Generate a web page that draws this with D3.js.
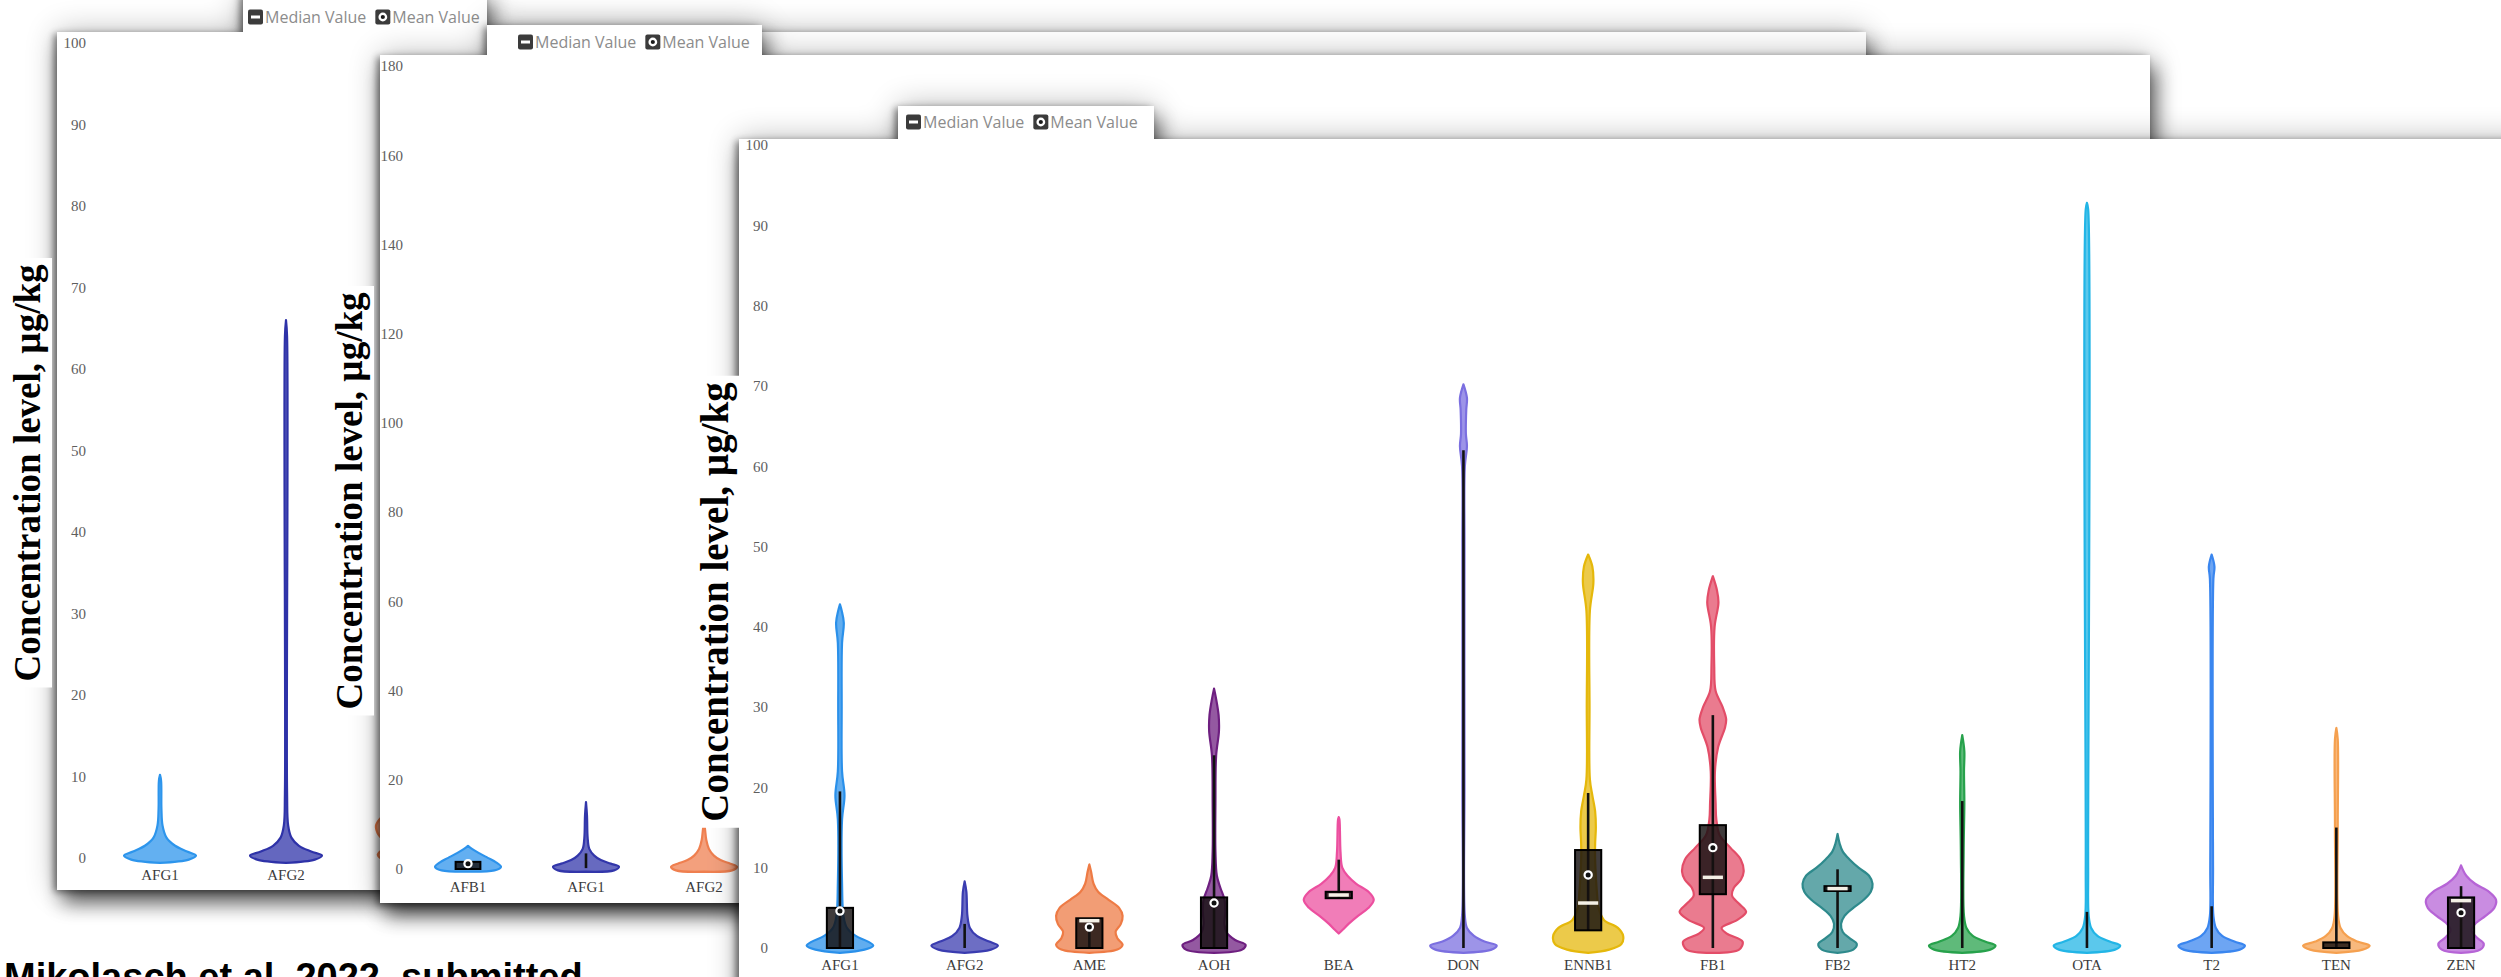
<!DOCTYPE html>
<html>
<head>
<meta charset="utf-8">
<script src="https://cdn.jsdelivr.net/npm/d3@7"></script>
<style>
  body { margin: 0; background: #ffffff; overflow: hidden; }
  svg { display: block; }
</style>
</head>
<body>
<svg id="chart" width="2501" height="977"></svg>
<script>
// ---------- data ----------
// Each violin profile is a list of [concentration (µg/kg), relative density 0..1].
// Box stats are [q1, median, q3, mean, whiskerLow, whiskerHigh]; null = not drawn.

const panel1Categories = ["AFG1", "AFG2", "AME"];
const panel1Ticks = [0, 10, 20, 30, 40, 50, 60, 70, 80, 90, 100];
const panel1Colors = ["#2d95ec", "#2e32a8", "#ee7c48"];
const panel1Profiles = [
  [[-0.6,0],[-0.2,0.8],[0.3,1.0],[0.8,0.75],[1.5,0.42],[2.5,0.18],[4,0.07],[6,0.04],[9.5,0.03],[10.2,0]],
  [[-0.6,0],[-0.2,0.8],[0.3,1.0],[0.8,0.7],[1.5,0.36],[2.5,0.15],[4,0.06],[8,0.03],[64,0.03],[66,0]],
  [[-0.6,0],[-0.2,0.8],[0.4,0.95],[1.2,0.8],[2,0.78],[3,0.95],[4,1.0],[5,0.85],[6,0.55],[7,0.25],[8.5,0.1],[10.5,0]]
];

const panel2Categories = ["AFB1", "AFG1", "AFG2"];
const panel2Ticks = [0, 20, 40, 60, 80, 100, 120, 140, 160, 180];
const panel2Colors = ["#2d93ec", "#3236aa", "#ef7f4f"];
const panel2Profiles = [
  [[-0.6,0],[-0.3,0.8],[0.5,1.0],[1.5,0.85],[2.5,0.6],[3.5,0.35],[4.5,0.12],[5.2,0]],
  [[-0.6,0],[-0.3,0.85],[0.5,1.0],[1.2,0.75],[2,0.45],[3,0.25],[4.5,0.1],[7,0.05],[12,0.03],[15,0]],
  [[-0.6,0],[-0.3,0.85],[0.5,1.0],[1.2,0.8],[2,0.5],[3,0.3],[4.5,0.15],[6.5,0.07],[9,0.03],[10.3,0]]
];
const panel2Boxes = [
  [0, null, 1.6, 1.2, 0, 1.6],
  [null, null, null, null, 0.2, 3.5],
  [null, null, null, null, null, null]
];

const panel3Categories = ["AFG1","AFG2","AME","AOH","BEA","DON","ENNB1","FB1","FB2","HT2","OTA","T2","TEN","ZEN"];
const panel3Ticks = [0, 10, 20, 30, 40, 50, 60, 70, 80, 90, 100];
const panel3Colors = ["#2a90ea","#3a3cb0","#ee7b45","#6e1f80","#ec4f9f","#7b6fe0","#e5b80b",
                      "#e34d68","#2e8a8c","#27a24c","#22b5e6","#3a86ef","#f5a04f","#b664d6"];
const panel3Profiles = [
  [[-0.6,0],[-0.2,0.7],[0.3,0.95],[0.8,0.8],[1.5,0.45],[2.5,0.2],[4,0.1],[8,0.06],[16,0.06],[19,0.13],[22,0.06],[30,0.05],[38,0.06],[40.5,0.11],[42,0.05],[42.8,0]],
  [[-0.6,0],[-0.2,0.75],[0.3,0.95],[0.8,0.7],[1.5,0.35],[2.5,0.15],[4,0.08],[7,0.05],[8.3,0]],
  [[-0.6,0],[-0.2,0.8],[0.4,0.95],[1.2,0.8],[2,0.75],[3,0.9],[4,0.95],[5,0.85],[6,0.55],[7,0.25],[8,0.12],[9.5,0.05],[10.4,0]],
  [[-0.6,0],[-0.2,0.8],[0.4,0.9],[1,0.6],[2,0.35],[3,0.3],[4.5,0.32],[6,0.3],[7.5,0.18],[9,0.08],[12,0.04],[18,0.04],[24,0.06],[27,0.14],[29,0.13],[31,0.06],[32.3,0]],
  [[1.8,0],[2.3,0.12],[3,0.28],[4,0.55],[5,0.85],[6,1.0],[7,0.85],[8,0.5],[9,0.25],[10,0.1],[12,0.05],[16,0.02],[16.3,0]],
  [[-0.6,0],[-0.2,0.8],[0.3,0.95],[0.8,0.6],[1.5,0.3],[2.5,0.1],[4,0.04],[20,0.03],[50,0.03],[60,0.04],[62.5,0.1],[64,0.07],[67,0.08],[68.5,0.1],[70.2,0]],
  [[-0.6,0],[-0.2,0.6],[0.5,0.95],[1.5,1.0],[2.5,0.85],[3.5,0.45],[5,0.3],[7,0.25],[9,0.22],[11,0.2],[13,0.2],[15,0.22],[17,0.2],[19,0.12],[21,0.05],[30,0.04],[42,0.05],[45.5,0.15],[47.5,0.12],[49,0]],
  [[-0.6,0],[-0.2,0.75],[0.8,0.85],[1.8,0.4],[2.5,0.25],[3.5,0.7],[4.5,0.95],[5.5,0.75],[6.5,0.55],[7.5,0.6],[8.5,0.8],[9.5,0.88],[11,0.8],[12.5,0.5],[14,0.2],[16,0.1],[18,0.08],[22,0.06],[25,0.15],[27.5,0.35],[28.5,0.38],[30,0.28],[32,0.08],[35,0.04],[40,0.05],[43,0.16],[44.5,0.12],[46.3,0]],
  [[-0.6,0],[-0.2,0.45],[0.5,0.55],[1.2,0.35],[2,0.15],[3,0.1],[4,0.2],[5,0.45],[6,0.75],[7,0.95],[8,1.0],[9,0.9],[10,0.6],[11,0.35],[12,0.15],[13,0.06],[14.2,0]],
  [[-0.6,0],[-0.2,0.8],[0.3,0.95],[0.8,0.65],[1.5,0.3],[2.5,0.12],[4,0.05],[12,0.04],[18,0.06],[22,0.05],[24.5,0.06],[26.5,0]],
  [[-0.6,0],[-0.2,0.8],[0.3,0.95],[0.8,0.65],[1.5,0.3],[2.5,0.12],[4,0.05],[10,0.035],[92,0.035],[92.8,0]],
  [[-0.6,0],[-0.2,0.8],[0.3,0.95],[0.8,0.65],[1.5,0.3],[2.5,0.12],[4,0.05],[10,0.04],[46,0.05],[47.5,0.08],[49,0]],
  [[-0.6,0],[-0.2,0.75],[0.3,0.95],[0.8,0.6],[1.5,0.3],[2.5,0.12],[4,0.05],[15,0.04],[26,0.04],[27.4,0]],
  [[-0.6,0],[-0.2,0.55],[0.5,0.65],[1.3,0.45],[2.2,0.3],[3,0.4],[4,0.7],[5,0.95],[6,1.0],[7,0.8],[8,0.4],[9,0.15],[10.3,0]]
];
const panel3Boxes = [
  [0, null, 5.0, 4.6, 0, 19.5],
  [null, null, null, null, 0, 3.0],
  [0, 3.4, 3.7, 2.6, 0, 3.7],
  [0, null, 6.3, 5.6, 0, 24],
  [6.2, 6.6, 7.0, null, 6.2, 11],
  [null, null, null, null, 0, 62],
  [2.2, 5.6, 12.2, 9.1, 2.2, 19.3],
  [6.7, 8.8, 15.3, 12.5, 0, 29],
  [7.1, 7.4, 7.7, null, 0, 9.8],
  [null, null, null, null, 0, 18.3],
  [null, null, null, null, 0, 4.5],
  [null, null, null, null, 0, 5.2],
  [0, null, 0.7, null, 0, 15],
  [0, 5.9, 6.3, 4.4, 0, 7.7]
];

const legendLabels = ["Median Value", "Mean Value"];
const axisTitle = "Concentration level, µg/kg";
const caption = "Mikolasch et al. 2022, submitted";

// ---------- drawing ----------
const svg = d3.select("#chart");
svg.append("defs").html(`
  <filter id="cardShadow" x="-0.06" y="-0.14" width="1.12" height="1.3">
    <feGaussianBlur in="SourceAlpha" stdDeviation="10" result="blur"/>
    <feOffset in="blur" dx="5" dy="13" result="off"/>
    <feComponentTransfer in="off" result="soft"><feFuncA type="linear" slope="0.6"/></feComponentTransfer>
    <feGaussianBlur in="SourceAlpha" stdDeviation="16" result="halo"/>
    <feComponentTransfer in="halo" result="haloSoft"><feFuncA type="linear" slope="0.28"/></feComponentTransfer>
    <feGaussianBlur in="SourceAlpha" stdDeviation="3.5" result="edge"/>
    <feOffset in="edge" dx="-3" dy="2" result="edgeOff"/>
    <feComponentTransfer in="edgeOff" result="edgeSoft"><feFuncA type="linear" slope="0.45"/></feComponentTransfer>
    <feMerge><feMergeNode in="haloSoft"/><feMergeNode in="soft"/><feMergeNode in="edgeSoft"/><feMergeNode in="SourceGraphic"/></feMerge>
  </filter>`);

const serif = "'Liberation Serif', 'Times New Roman', serif";

function drawLegend(g, lx, ly) {
  const lg = g.append("g").attr("transform", `translate(${lx},${ly})`);
  let cursor = 0;
  legendLabels.forEach((label, i) => {
    const icon = lg.append("g").attr("transform", `translate(${cursor},0)`);
    icon.append("rect").attr("x", 0).attr("y", -7.5).attr("width", 15).attr("height", 15)
      .attr("rx", 2).attr("fill", "#3b3b3b");
    if (i === 0) {
      icon.append("rect").attr("x", 3).attr("y", -1.5).attr("width", 9).attr("height", 3).attr("fill", "#ffffff");
    } else {
      icon.append("circle").attr("cx", 7.5).attr("cy", 0).attr("r", 4.4).attr("fill", "#ffffff");
      icon.append("circle").attr("cx", 7.5).attr("cy", 0).attr("r", 2.1).attr("fill", "#1a1a1a");
    }
    const t = lg.append("text").attr("x", cursor + 17).attr("y", 0).attr("dy", "0.35em")
      .attr("font-family", "'Open Sans', sans-serif").attr("font-size", 16)
      .attr("fill", "#8c8c8c").text(label);
    cursor += 17 + t.node().getComputedTextLength() + 9;
  });
}

function drawTitle(parent, bx, cy, size) {
  const tg = parent.append("g").attr("transform", `translate(${bx},${cy}) rotate(-90)`);
  const bg = tg.append("rect").attr("fill", "#ffffff");
  const t = tg.append("text").attr("text-anchor", "middle")
    .attr("font-family", serif).attr("font-weight", "bold").attr("font-size", size)
    .attr("fill", "#000000").text(axisTitle);
  const b = t.node().getBBox();
  bg.attr("x", b.x - 6).attr("y", b.y - 4).attr("width", b.width + 12).attr("height", b.height + 8);
}

function drawPanel(cfg) {
  const g = svg.append("g");

  // card with its legend tab
  const card = g.append("g").attr("filter", "url(#cardShadow)");
  card.append("rect").attr("x", cfg.card[0]).attr("y", cfg.card[1])
    .attr("width", cfg.card[2]).attr("height", cfg.card[3]).attr("fill", "#ffffff");
  card.append("rect").attr("x", cfg.tab[0]).attr("y", cfg.tab[1])
    .attr("width", cfg.tab[2]).attr("height", cfg.tab[3]).attr("fill", "#ffffff");

  drawLegend(g, cfg.legend[0], cfg.legend[1]);

  const y = d3.scaleLinear().domain([cfg.ticks[0], cfg.ticks[cfg.ticks.length - 1]])
    .range([cfg.yRange[0], cfg.yRange[1]]);
  const x = d3.scaleBand().domain(cfg.categories)
    .range([cfg.xStart, cfg.xStart + cfg.step * cfg.categories.length]).padding(0);
  const w = d3.scaleLinear().domain([0, 1]).range([0, cfg.maxHalf]);

  // value axis (labels only)
  const ya = g.append("g").attr("transform", `translate(${cfg.yLabelRight},0)`)
    .call(d3.axisLeft(y).tickValues(cfg.ticks).tickSize(0).tickPadding(0).tickFormat(d3.format("d")));
  ya.select(".domain").remove();
  ya.selectAll("text").attr("font-family", serif).attr("font-size", 15).attr("fill", "#5e5e5e");

  // category axis (labels only; a label hidden under the next card is left out)
  const xa = g.append("g").attr("transform", `translate(0,${cfg.yRange[0]})`)
    .call(d3.axisBottom(x).tickValues(cfg.categories.slice(0, cfg.labelCount)).tickSize(0).tickPadding(cfg.labelPad));
  xa.select(".domain").remove();
  xa.selectAll("text").attr("font-family", serif).attr("font-size", 15).attr("fill", "#3c3c3c");

  const boxW = x.bandwidth() * 0.21;
  cfg.categories.forEach((c, i) => {
    const cx = x(c) + x.bandwidth() / 2;
    const area = d3.area().curve(d3.curveCatmullRom.alpha(0.5))
      .y(d => y(d[0]))
      .x0(d => cx - w(d[1]))
      .x1(d => cx + w(d[1]));
    g.append("path").attr("d", area(cfg.profiles[i]))
      .attr("fill", cfg.colors[i]).attr("fill-opacity", 0.74)
      .attr("stroke", cfg.colors[i]).attr("stroke-width", 2.2).attr("stroke-linejoin", "round");

    const bx = cfg.boxes ? cfg.boxes[i] : null;
    if (!bx) return;
    const [q1, med, q3, mean, wLo, wHi] = bx;
    if (wLo !== null) {
      g.append("line").attr("x1", cx).attr("x2", cx).attr("y1", y(wLo)).attr("y2", y(wHi))
        .attr("stroke", "#111111").attr("stroke-width", 2.6);
    }
    if (q1 !== null) {
      g.append("rect").attr("x", cx - boxW / 2).attr("width", boxW)
        .attr("y", y(q3)).attr("height", Math.max(2, y(q1) - y(q3)))
        .attr("fill", "#151010").attr("fill-opacity", 0.82)
        .attr("stroke", "#000000").attr("stroke-width", 2);
    }
    if (med !== null) {
      g.append("line").attr("x1", cx - boxW / 2 + 3).attr("x2", cx + boxW / 2 - 3)
        .attr("y1", y(med)).attr("y2", y(med))
        .attr("stroke", "#f4f0e6").attr("stroke-width", 3.5);
    }
    if (mean !== null) {
      g.append("circle").attr("cx", cx).attr("cy", y(mean)).attr("r", 3.6)
        .attr("fill", "#111111").attr("stroke", "#ffffff").attr("stroke-width", 2.2);
    }
  });

  drawTitle(g, cfg.title[0], cfg.title[1], cfg.title[2]);
}

// back panel
drawPanel({
  card: [57, 32, 1809, 858], tab: [243, -8, 244, 42], legend: [248, 17],
  categories: panel1Categories, ticks: panel1Ticks, colors: panel1Colors,
  profiles: panel1Profiles, boxes: null, labelCount: 2,
  yRange: [858, 43], xStart: 97, step: 126, maxHalf: 36,
  yLabelRight: 86, labelPad: 11, title: [40, 473, 37]
});

// caption
svg.append("text").attr("x", 4).attr("y", 990)
  .attr("font-family", "'Liberation Sans', Arial, sans-serif").attr("font-weight", "bold")
  .attr("font-size", 38).attr("fill", "#000000").text(caption);

// middle panel
drawPanel({
  card: [380, 55, 1770, 848], tab: [487, 25, 275, 35], legend: [518, 42],
  categories: panel2Categories, ticks: panel2Ticks, colors: panel2Colors,
  profiles: panel2Profiles, boxes: panel2Boxes, labelCount: 3,
  yRange: [869, 66], xStart: 409, step: 118, maxHalf: 33,
  yLabelRight: 403, labelPad: 12, title: [362, 501, 37]
});

// front panel
drawPanel({
  card: [739, 139, 1820, 900], tab: [898, 106, 256, 38], legend: [906, 122],
  categories: panel3Categories, ticks: panel3Ticks, colors: panel3Colors,
  profiles: panel3Profiles, boxes: panel3Boxes, labelCount: 14,
  yRange: [948, 145], xStart: 777.6, step: 124.7, maxHalf: 35,
  yLabelRight: 768, labelPad: 11, title: [728, 602, 39]
});
</script>
</body>
</html>
